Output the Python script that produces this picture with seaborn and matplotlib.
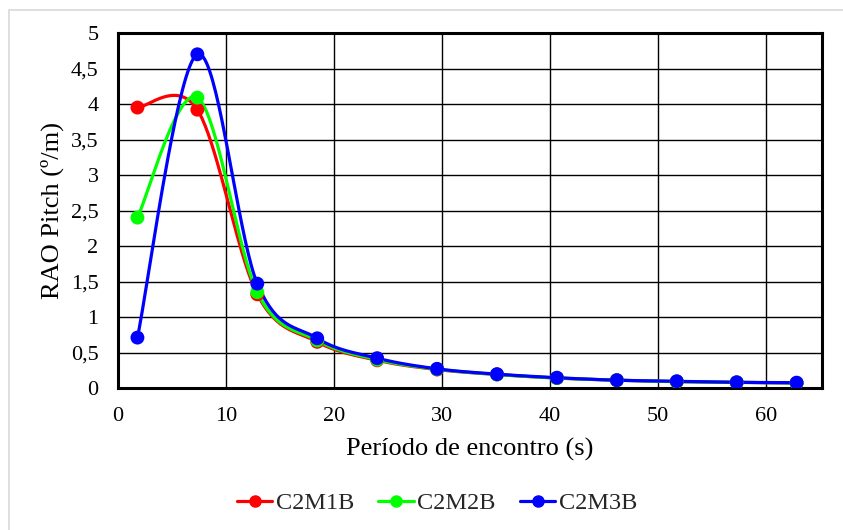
import numpy as np
import matplotlib
matplotlib.use("Agg")
import matplotlib.pyplot as plt
import seaborn as sns
import pandas as pd
from matplotlib.lines import Line2D
from matplotlib.patches import Rectangle

periodo = [1.8, 7.35, 12.9, 18.45, 24.0, 29.55, 35.1, 40.65, 46.2, 51.75, 57.3, 62.85]
c2m1b = [3.95, 3.92, 1.32, 0.65, 0.39, 0.26, 0.19, 0.14, 0.11, 0.09, 0.08, 0.07]
c2m2b = [2.40, 4.09, 1.35, 0.67, 0.40, 0.265, 0.19, 0.14, 0.11, 0.09, 0.08, 0.07]
c2m3b = [0.71, 4.70, 1.47, 0.70, 0.42, 0.27, 0.195, 0.145, 0.11, 0.095, 0.08, 0.075]
series_names = ["C2M1B", "C2M2B", "C2M3B"]
series_colors = ["#ff0000", "#00ff00", "#0000ff"]
x_ticks = [0, 10, 20, 30, 40, 50, 60]
y_ticks = [0, 0.5, 1, 1.5, 2, 2.5, 3, 3.5, 4, 4.5, 5]


def excel_smooth(x, y, n=40):
    x = np.asarray(x, float)
    y = np.asarray(y, float)
    P = np.column_stack([x, y])
    out = []
    for i in range(len(P) - 1):
        p0 = P[i - 1] if i > 0 else P[i]
        p1 = P[i]
        p2 = P[i + 1]
        p3 = P[i + 2] if i + 2 < len(P) else P[i + 1]
        c1 = p1 + (p2 - p0) / 6.0
        c2 = p2 - (p3 - p1) / 6.0
        t = np.linspace(0, 1, n)[:, None]
        seg = ((1 - t) ** 3) * p1 + 3 * ((1 - t) ** 2) * t * c1 + 3 * (1 - t) * t ** 2 * c2 + t ** 3 * p2
        out.append(seg if i == 0 else seg[1:])
    s = np.vstack(out)
    return s[:, 0], s[:, 1]


sns.set_theme(style="white")
plt.rcParams["font.family"] = ["Liberation Serif", "DejaVu Serif"]

fig = plt.figure(figsize=(8.43, 5.30), dpi=100)
ax = fig.add_axes([118 / 843, 1 - 388 / 530, (822 - 118) / 843, (388 - 33) / 530])

# outer chart border (light gray)
fig.patches.append(Rectangle((9 / 843, -0.1), 1.2, 1 - 10 / 530 + 0.1, transform=fig.transFigure,
                             fill=False, edgecolor="#d9d9d9", linewidth=1.2, zorder=0))

df = pd.DataFrame({"x": periodo * 3,
                   "y": c2m1b + c2m2b + c2m3b,
                   "serie": sum([[n] * len(periodo) for n in series_names], [])})

for name, ys, col in zip(series_names, [c2m1b, c2m2b, c2m3b], series_colors):
    sx, sy = excel_smooth(periodo, ys)
    ax.plot(sx, sy, color=col, linewidth=2.3, zorder=3, solid_capstyle="round")

sns.scatterplot(data=df, x="x", y="y", hue="serie", palette=series_colors,
                s=100, edgecolor="none", legend=False, ax=ax, zorder=4)

ax.set_xlim(0, 65.2)
ax.set_ylim(0, 5)
ax.set_xticks(x_ticks)
ax.set_yticks(y_ticks)
ax.set_xticklabels([str(v) for v in x_ticks])
ax.set_yticklabels([("%g" % v).replace(".", ",") for v in y_ticks])
ax.tick_params(axis="y", length=0, labelsize=16, colors="black", pad=14)
ax.tick_params(axis="x", length=0, labelsize=16, colors="black", pad=14)
ax.grid(True, color="black", linewidth=1.0)
ax.set_axisbelow(True)
for sp in ax.spines.values():
    sp.set_color("black")
    sp.set_linewidth(2.2)
ax.set_xlabel("Período de encontro (s)", fontsize=19, color="black", labelpad=8)
ax.set_ylabel("RAO Pitch (º/m)", fontsize=19, color="black", labelpad=5)

handles = [Line2D([0], [0], color=c, linewidth=2.3, marker="o", markersize=8) for c in series_colors]
fig.legend(handles, series_names, loc="center", bbox_to_anchor=(437 / 843, 1 - 503 / 530),
           ncol=3, frameon=False, fontsize=17.5, handlelength=1.45, handletextpad=0.15,
           columnspacing=1.0)

fig.savefig("out.png", dpi=100)
